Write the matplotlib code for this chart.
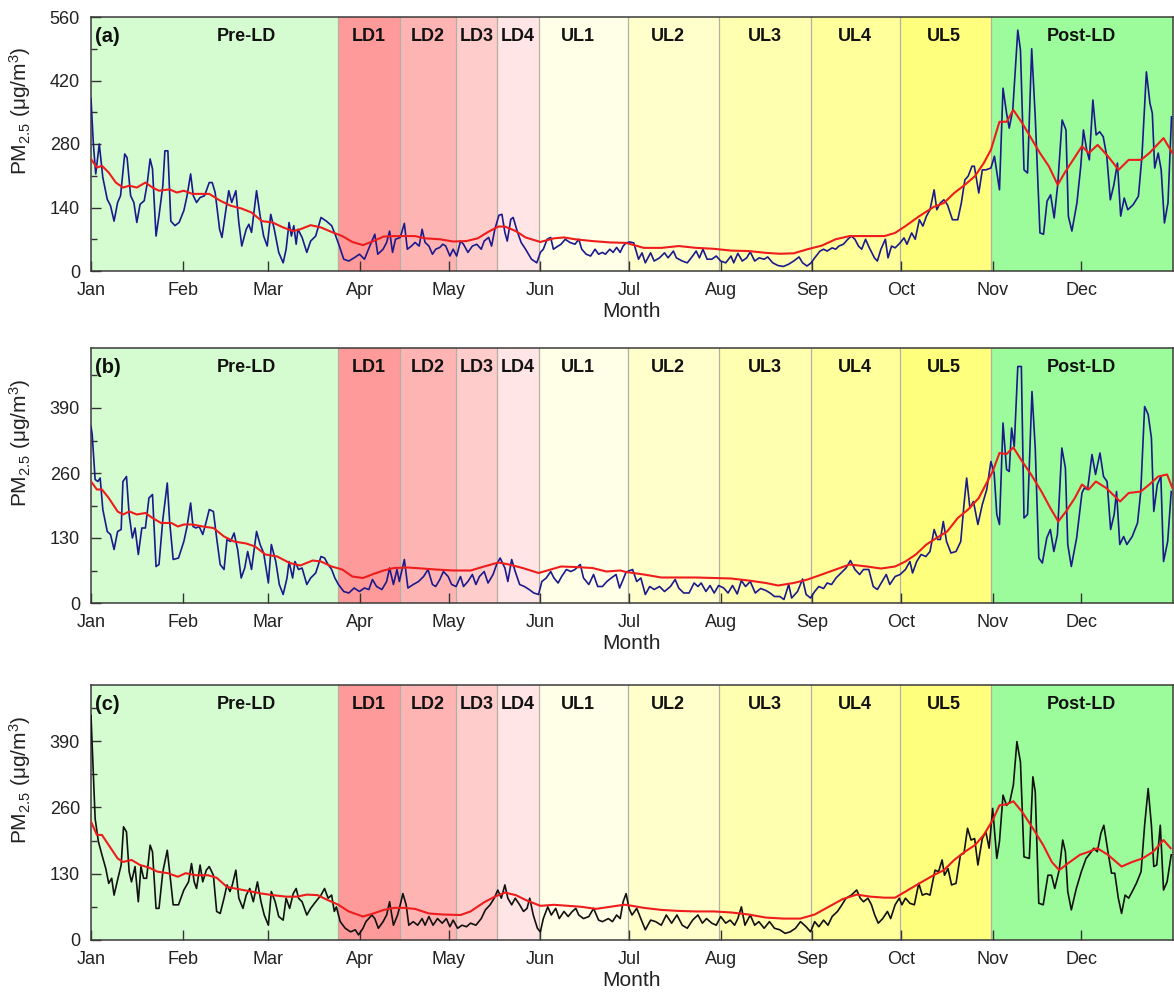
import matplotlib
matplotlib.use("Agg")
import matplotlib.pyplot as plt
from matplotlib.ticker import MultipleLocator

plt.rcParams['font.family'] = ['Liberation Sans', 'DejaVu Sans']
plt.rcParams['mathtext.default'] = 'regular'

# ---------------- data ----------------
month_ticks = [0, 31, 60, 91, 121, 152, 182, 213, 244, 274, 305, 335]
month_labels = ['Jan', 'Feb', 'Mar', 'Apr', 'May', 'Jun', 'Jul', 'Aug', 'Sep', 'Oct', 'Nov', 'Dec']

phase_names = ['Pre-LD', 'LD1', 'LD2', 'LD3', 'LD4', 'UL1', 'UL2', 'UL3', 'UL4', 'UL5', 'Post-LD']
phase_edges = [0, 83.5, 104.5, 123.5, 137.5, 151.5, 181.5, 212.5, 243.5, 273.5, 304.5, 366]
phase_colors = ['#d5fcd1', '#ff9a9a', '#ffb4b4', '#ffcccc', '#ffe5e5', '#fffee6',
                '#ffffcc', '#ffffb0', '#ffff9c', '#ffff7e', '#9cfc9c']
phase_label_x = [52.7, 94, 114, 130.5, 144.5, 164.8, 195, 228, 258.5, 288.5, 335]

# panel (a)
a_days = [0, 0.8, 1.6, 2.8, 4, 5.5, 6.6, 7.8, 9, 10, 11.4, 12.2, 13.4, 14.5, 15.5, 16.6, 18, 19, 20, 20.8,
          22, 23, 24.3, 25, 26, 27, 28.4, 29.8, 31.4, 32.5, 33.7, 34.6, 35.7, 36.9, 38.4, 40, 41, 42, 43.5, 44.3,
          45.5, 46.6, 47.6, 49, 50, 51, 52.5, 53.4, 54.3, 56, 57.2, 58.4, 59.6, 60.8, 62, 63.5, 65, 66, 67, 67.8,
          68.6, 69.4, 70, 71.4, 73, 74.3, 76, 77.8, 79.6, 81.4, 82.8, 84, 85.5, 87.2, 89, 90.8, 92.5, 94.3, 96, 97,
          98.8, 100, 101, 102, 103, 104.6, 106, 107, 108.4, 109.6, 111, 112, 113, 114.3, 115.5, 116.6, 118, 119, 120, 121.4,
          122.5, 123.7, 125, 126, 127.5, 129, 130.5, 132, 133, 134.5, 135.5, 136.6, 138, 139, 140, 140.8, 142, 142.8, 144.3, 145.5,
          147, 149, 150.8, 152, 153, 154.3, 155.5, 156.4, 158, 159, 160.4, 162, 163.7, 165, 166, 167.5, 169, 170.5, 171.7, 173,
          174, 175.5, 176.6, 177.8, 179, 180,
          181, 182.2, 183.6, 185.2, 186.4, 187.5, 189.3, 190.5, 192.3, 194, 195.2, 197, 198, 200, 201.7, 203.5, 204.7, 205.8, 207, 208.4,
          210, 211.5, 213, 214.7, 216.5, 217.4, 218.8, 220.3, 221.8, 223, 224.5, 226, 227.7, 228.9, 230.6, 232.4, 234.2, 236, 237.7, 239.5,
          240.7, 242.2, 243.6, 244.8, 246.6, 247.8, 249, 250.7, 251.9, 253, 254.5, 256, 257.2, 258.4, 259.6, 260.7, 262, 263, 265, 266,
          267.2, 268.7, 269.6, 270.8, 272, 273.7, 275, 276, 277.6, 278.8, 280.2, 281.4, 282.6, 283.8, 285.2, 286.1, 287.3, 288.5, 289.7, 291.4,
          293.2, 294.4, 295.6, 296.7, 298, 298.8, 300.3, 301.5, 302.7, 304.4, 305.6, 307.3, 308.5, 309.7, 310.6, 311.8, 313.5, 314.4, 315.6, 316.8,
          318.2, 319.4, 321, 322.2, 323.4, 324.6, 325.8, 327, 328.5, 329.8, 330.6, 331.8, 333.5, 334.8, 335.7, 336.8, 337.7, 338.9, 340, 341.2,
          342.4, 343.6, 344.8, 346, 347.2, 348.3, 349.5, 350.7, 352.5, 354.3, 355.5, 357, 358.2, 359, 359.8, 361, 362, 363.1, 364.3, 365.5]
a_pm = [380, 280, 214, 280, 206, 158, 144, 110, 151, 166, 258, 250, 166, 151, 107, 147, 155, 192, 247, 225,
        77, 122, 188, 265, 265, 110, 100, 107, 133, 166, 214, 166, 151, 162, 166, 195, 195, 173, 92, 74,
        129, 177, 151, 177, 107, 55, 92, 103, 85, 177, 122, 77, 55, 125, 92, 41, 18, 48, 107, 77,
        100, 59, 92, 74, 41, 66, 77, 118, 110, 100, 77, 55, 26, 22, 29, 37, 26, 55, 81, 37,
        48, 63, 88, 41, 70, 74, 105, 48, 55, 63, 55, 92, 63, 55, 37, 48, 52, 59, 55, 33,
        48, 33, 66, 59, 41, 55, 59, 48, 66, 74, 55, 92, 123, 125, 85, 66, 114, 118, 85, 63,
        48, 26, 18, 41, 48, 70, 74, 48, 55, 59, 70, 63, 59, 70, 48, 37, 33, 48, 37, 41,
        37, 48, 41, 52, 41, 55,
        62, 64, 62, 26, 40, 18, 40, 22, 29, 40, 29, 44, 29, 22, 18, 33, 44, 29, 48, 26,
        26, 33, 22, 18, 33, 18, 39, 22, 29, 42, 22, 29, 26, 31, 18, 12, 10, 15, 22, 31,
        18, 11, 18, 29, 44, 48, 44, 51, 48, 55, 59, 70, 77, 70, 55, 48, 70, 55, 29, 22,
        48, 70, 29, 55, 51, 62, 73, 59, 84, 70, 113, 99, 121, 135, 179, 135, 150, 157, 146, 113,
        113, 150, 201, 209, 231, 231, 172, 223, 223, 227, 253, 179, 403, 348, 315, 355, 531, 487, 223, 216,
        490, 340, 84, 81, 154, 168, 117, 190, 333, 311, 121, 88, 150, 231, 311, 267, 245, 377, 300, 307,
        296, 253, 157, 190, 238, 121, 161, 135, 146, 165, 253, 439, 370, 348, 227, 260, 223, 106, 150, 340]
a_ma_days = [0, 2, 3.7, 6, 8.4, 10.8, 13, 15.5, 18.4, 20.8, 23, 26.6, 29, 31.4, 34.3, 37.8, 40, 43.7, 47.2, 50.8,
             54.3, 57.8, 61.4, 65, 68.4, 70.8, 74.3, 77.8, 81.4, 85, 88.4, 92, 95.5, 99, 102.5, 106, 109.6, 113, 118, 122.5,
             127, 130.8, 134.3, 137.8, 140, 143.7, 147, 152, 156.6, 160, 163.7, 169.6, 175.5,
             181, 187, 193, 198.8, 204.7, 210.6, 216.5, 222.4, 228.3, 233, 237.7, 242.4, 247.2, 251.9, 256.6, 262.5, 268.4, 272,
             275.5, 280.2, 285, 288.5, 292, 295.6, 299, 302, 304.4, 307.3, 309.7, 312, 315, 318, 321, 324, 327, 329.3,
             332.2, 335.2, 337.5, 340.5, 344, 347.6, 351, 355.2, 358, 362.8, 365.8]
a_ma = [247, 228, 232, 217, 195, 184, 188, 184, 195, 184, 177, 180, 173, 177, 170, 170, 170, 155, 144, 138,
        129, 110, 107, 96, 88, 92, 101, 96, 86, 77, 64, 57, 66, 76, 77, 77, 77, 72, 70, 65,
        66, 72, 86, 98, 98, 88, 74, 64, 72, 74, 70, 66, 63,
        62, 51, 51, 55, 51, 49, 45, 44, 40, 38, 39, 48, 56, 70, 77, 77, 77, 84,
        99, 121, 141, 150, 172, 190, 209, 238, 267, 329, 329, 355, 326, 293, 260, 231, 190, 216,
        245, 275, 260, 278, 253, 223, 245, 245, 260, 293, 260]

# panel (b)
b_days = [0, 0.4, 1.4, 2.3, 3.1, 4, 5.5, 6.6, 7.8, 9, 10.2, 10.8, 12, 12.9, 14, 14.9, 16, 17.2, 18.4, 19.6,
          20.8, 22, 23, 24.3, 25.8, 26.6, 27.8, 29.6, 31.4, 32.5, 33.7, 34.5, 35.5, 36.6, 37.8, 39, 40, 41.4, 42.5, 43.7,
          45, 46, 47.2, 48.4, 49.6, 50.8, 52, 53, 54.3, 56, 57.2, 58.4, 60, 61, 62.5, 63.7, 65, 66.3, 67, 68.2,
          69, 70.2, 71.4, 73, 74.3, 76, 77.8, 79, 80.2, 81.4, 82.5, 83.7, 85.5, 87.2, 89, 90.8, 92.5, 94, 95.2, 96.6,
          98.4, 100, 101, 102.3, 103.5, 104.3, 106, 107.2, 109, 110.8, 112.5, 114, 115.5, 116.6, 118, 119.2, 120.8, 122, 123.5, 125,
          126, 127.5, 129, 130.2, 131.4, 133, 134.3, 136, 137.2, 138.4, 140, 141, 142.3, 143.5, 145, 146.6, 148.2, 149.8, 151.4, 152.5,
          154, 155.5, 156.6, 158, 159.2, 160.8, 162.3, 163.7, 165.5, 166.6, 168.4, 170, 171.4, 173, 174.5, 176, 177.6, 178.8, 180,
          181, 183.2, 184.6, 186, 187.5, 189, 190.5, 192.3, 194, 196, 197.6, 198.8, 200.5, 202.3, 204, 205.3, 206.4, 208, 209.4, 210.8,
          212.3, 214, 215.5, 217, 218.6, 220, 221.4, 223, 224.7, 226.5, 228.3, 229.7, 231.2, 233, 234.4, 236, 237, 239, 240.7, 241.9,
          243.4, 244.8, 246.2, 247.8, 249, 250.5, 252, 253.7, 255.4, 256.9, 258.4, 260, 261.3, 263.1, 264.6, 266, 267.6, 269, 270.2, 272,
          273.7, 275.5, 277, 277.9, 279.3, 280.8, 282.4, 283.8, 285.2, 286.4, 287.3, 288.3, 289.4, 290.9, 292.6, 294.2, 295.3, 296.2, 297.3, 298.5,
          300, 301.5, 303, 304.4, 305.5, 306.4, 307.3, 308.5, 309.7, 310.6, 311.4, 312.3, 313.5, 314.7, 315.6, 316.8, 318.3, 319.4, 320.6, 321.8,
          323.3, 324.5, 325.7, 326.9, 328.4, 329.6, 330.4, 331.6, 333.4, 335.2, 336, 337.1, 338.6, 339.8, 341.3, 342.5, 343.7, 344.9, 346.1, 346.9,
          348, 349.3, 350.4, 352.2, 354, 355.1, 356.4, 357.6, 358.7, 359.5, 360.7, 361.9, 362.8, 364.2, 365.4]
b_pm = [353, 337, 247, 243, 250, 187, 143, 137, 107, 143, 147, 243, 253, 177, 130, 150, 97, 150, 150, 210,
        217, 73, 77, 167, 240, 163, 87, 90, 123, 153, 200, 153, 150, 153, 137, 163, 187, 183, 130, 77,
        67, 127, 123, 140, 107, 50, 70, 103, 67, 143, 117, 100, 40, 117, 83, 37, 17, 50, 83, 50,
        83, 67, 70, 37, 50, 60, 93, 90, 77, 67, 50, 37, 23, 20, 30, 23, 30, 27, 47, 33,
        27, 43, 70, 37, 67, 43, 87, 30, 37, 43, 53, 67, 37, 33, 47, 63, 53, 37, 33, 53,
        33, 43, 57, 37, 53, 63, 40, 57, 77, 90, 70, 43, 87, 63, 37, 33, 27, 20, 17, 43,
        50, 63, 50, 40, 53, 67, 63, 67, 77, 50, 37, 57, 33, 33, 43, 50, 57, 30, 47,
        62, 67, 43, 50, 17, 33, 27, 33, 23, 33, 47, 30, 20, 20, 40, 33, 40, 23, 35, 20,
        35, 30, 20, 35, 18, 45, 33, 43, 20, 29, 25, 20, 13, 13, 7, 37, 10, 23, 48, 17,
        10, 23, 33, 29, 40, 37, 50, 60, 70, 85, 67, 57, 67, 67, 33, 27, 43, 57, 37, 53,
        57, 67, 83, 60, 83, 97, 93, 103, 147, 127, 127, 163, 123, 100, 103, 123, 197, 250, 190, 203,
        157, 197, 227, 283, 260, 177, 157, 360, 267, 263, 350, 313, 473, 473, 170, 177, 423, 310, 90, 80,
        130, 147, 103, 137, 310, 270, 117, 73, 130, 220, 230, 227, 297, 257, 300, 253, 243, 147, 177, 223,
        117, 133, 117, 133, 160, 223, 393, 377, 330, 183, 237, 253, 83, 123, 223]
b_ma_days = [0, 2, 3.7, 6, 9, 10.8, 13, 15.5, 18.4, 20.8, 23.7, 27.2, 29.4, 31.4, 34.3, 37.8, 41.4, 45, 48.4, 52.5,
             55.5, 59, 63, 67.2, 70.8, 75, 77.8, 81.4, 85, 88.4, 92, 95.5, 99, 102.5, 107.2, 112, 116.6, 122.5, 128.4, 133,
             137.8, 141.4, 146, 151.4, 155.5, 159, 163.7, 169.6, 174.3, 179,
             181, 187, 192.9, 198.8, 204.7, 210.6, 216.5, 222.4, 228.3, 232.4, 237.7, 242.4, 247.2, 251.9, 256.6, 262.5, 267.2, 272, 275.5, 279,
             282.6, 286, 289.6, 293.2, 296.7, 300.3, 303.2, 305, 307.3, 309.7, 312, 315, 318, 321.5, 324.5, 327.2, 329.8, 332.8, 335.2, 337.5,
             339.9, 343.4, 348.1, 351, 355.1, 358, 361, 364, 365.8]
b_ma = [243, 227, 227, 210, 183, 177, 183, 177, 180, 170, 160, 160, 153, 157, 157, 153, 150, 133, 123, 119,
        113, 97, 93, 80, 75, 85, 83, 73, 67, 53, 50, 58, 65, 70, 71, 69, 67, 65, 65, 73,
        81, 77, 70, 60, 67, 73, 72, 70, 63, 65,
        62, 57, 51, 51, 51, 50, 49, 45, 40, 35, 40, 47, 57, 67, 77, 73, 69, 73, 83, 97,
        117, 130, 143, 170, 187, 210, 243, 263, 300, 298, 311, 283, 257, 223, 190, 163, 183, 210, 237, 227,
        243, 230, 203, 220, 223, 237, 253, 257, 230]

# panel (c)
c_days = [0, 0.8, 1.4, 2.5, 3.7, 5, 6, 7, 7.8, 9, 10.2, 11, 12, 12.9, 13.7, 14.9, 16, 16.9, 17.8, 18.8,
          20, 20.8, 22, 23, 24.3, 25.8, 26.6, 27.8, 29.6, 31.4, 33, 34, 34.9, 35.7, 36.9, 37.8, 39, 40, 41.4, 42.5,
          43.7, 45, 46, 47, 47.8, 49, 50, 51.4, 52.5, 53.7, 54.9, 56.3, 57.5, 58.6, 60, 61, 62.3, 63.5, 65, 66,
          67.2, 68.4, 69.4, 70.2, 71.4, 73, 74.3, 76, 77.8, 79, 80.2, 81.4, 82.3, 83, 84.3, 86, 87.8, 89.4, 90.5, 92,
          93, 95, 96, 97.2, 98.8, 100, 101, 102.3, 103.7, 104.6, 105.5, 106.6, 107.5, 109, 110.5, 112, 113, 114.3, 115.7, 117.2,
          118.8, 120.2, 121.4, 122.5, 124, 125.5, 127, 128.4, 130.2, 132, 133.4, 135, 136.4, 137.6, 138.8, 140, 141, 142.3, 143.5, 145,
          146.3, 147.5, 148.4, 149.6, 151, 152, 153, 154.5, 155.7, 157.2, 158.4, 160, 161.4, 162.8, 164, 165, 166.6, 168.4, 170, 171.7,
          173, 175, 176.4, 177.8, 179, 180,
          181, 182, 183, 184.6, 186, 187.5, 189.3, 191, 192.9, 194.6, 196.4, 198.2, 200, 201.7, 203.5, 205.3, 206.8, 208.2, 210, 211.5,
          213, 214.7, 216.2, 217.7, 218.8, 220, 221.2, 223, 224.5, 225.9, 227.7, 229.5, 231.2, 233, 234.8, 236.5, 238.3, 240, 241.9, 243.4,
          244.8, 246.2, 247.8, 249.3, 250.7, 252.5, 254, 255.4, 257.2, 259, 260.2, 261.3, 262.8, 264, 265.1, 266.3, 267.8, 269.4, 270.5, 272,
          273.4, 274.3, 275.5, 277, 278.5, 280, 281.2, 282.6, 283.8, 285.5, 286.7, 287.9, 288.7, 289.9, 291.1, 292.6, 294.1, 295.3, 296.5, 297.7,
          298.9, 300, 301.5, 302.7, 303.8, 305, 306.4, 307.3, 308.5, 309.7, 310.8, 312, 313.2, 314.4, 315.6, 317.4, 318.6, 319.4, 320.6, 322.1,
          323.7, 324.9, 326, 327.5, 328.7, 329.6, 330.4, 331.6, 333.3, 335, 336.6, 338, 339.2, 340.4, 341.6, 342.6, 344, 345.2, 346.3, 347.5,
          348.6, 349.8, 351, 352.2, 353.6, 355.2, 356.4, 357.6, 358.7, 359.5, 360.5, 361.7, 362.8, 364, 365.4]
c_pm = [440, 323, 238, 193, 167, 140, 111, 121, 88, 118, 147, 222, 212, 134, 114, 144, 75, 144, 121, 121,
        186, 173, 62, 62, 134, 176, 134, 69, 69, 98, 114, 150, 114, 101, 147, 114, 137, 144, 127, 56,
        52, 82, 108, 95, 108, 137, 82, 62, 88, 101, 75, 114, 75, 49, 29, 95, 75, 46, 39, 82,
        62, 91, 101, 82, 75, 49, 62, 75, 88, 101, 82, 88, 56, 65, 36, 23, 16, 20, 10, 23,
        36, 49, 42, 23, 36, 49, 75, 29, 49, 69, 91, 69, 29, 36, 29, 42, 29, 46, 29, 42,
        33, 42, 26, 39, 23, 29, 26, 33, 29, 42, 59, 69, 82, 98, 82, 108, 82, 69, 82, 69,
        56, 62, 82, 49, 23, 16, 42, 65, 49, 62, 42, 56, 46, 56, 62, 49, 42, 46, 62, 39,
        36, 42, 36, 49, 42, 75,
        91, 62, 49, 62, 42, 20, 39, 36, 29, 49, 33, 49, 29, 23, 39, 49, 33, 42, 33, 29,
        46, 33, 39, 29, 42, 65, 29, 49, 29, 36, 23, 36, 23, 20, 13, 16, 23, 36, 26, 16,
        36, 26, 39, 29, 46, 56, 69, 82, 88, 98, 82, 75, 82, 69, 49, 33, 42, 56, 42, 69,
        82, 69, 82, 72, 69, 111, 88, 91, 88, 137, 134, 157, 127, 140, 108, 111, 167, 170, 219, 196,
        199, 147, 199, 212, 180, 258, 160, 193, 284, 264, 271, 304, 389, 349, 163, 160, 320, 291, 72, 69,
        127, 127, 101, 137, 196, 173, 95, 59, 101, 134, 160, 170, 180, 173, 209, 225, 173, 131, 131, 82,
        52, 88, 82, 95, 111, 134, 225, 297, 225, 144, 147, 225, 98, 114, 167]
c_ma_days = [0, 2, 3.7, 6, 9, 10.8, 13.7, 16.6, 19.6, 22.5, 26, 29.4, 32, 35.5, 39.6, 42.5, 46, 49.6, 54.3, 57.8,
             61.4, 66, 69.6, 73, 76.6, 80.2, 83.7, 87.2, 92, 95.5, 99, 102.5, 106, 109.6, 114.3, 119, 125, 128.4, 133, 136.6,
             140, 143.7, 147.2, 152, 156.6, 161.4, 166, 170.8, 175.5, 180.2,
             181, 187, 192.9, 198.8, 204.7, 210.6, 216.5, 222.4, 228.3, 234.2, 240, 244.8, 249.5, 254.2, 259, 263.7, 268.4, 272, 275.5, 280.2,
             285, 288.5, 292, 295.6, 299, 302, 305, 307.3, 309.7, 312, 315, 318.6, 322.1, 325, 327.5, 330.4, 334.5, 337.5, 340.4, 344,
             348.6, 352.2, 355.7, 359.3, 362.8, 365.2]
c_ma = [232, 206, 206, 186, 160, 153, 157, 147, 142, 134, 131, 124, 131, 127, 127, 122, 104, 100, 95, 91,
        88, 85, 85, 89, 88, 78, 69, 56, 46, 52, 59, 63, 63, 61, 52, 50, 49, 56, 74, 85,
        93, 88, 78, 67, 69, 67, 65, 61, 65, 69,
        69, 63, 59, 57, 56, 56, 54, 50, 44, 42, 42, 50, 65, 80, 89, 85, 83, 83, 95, 111,
        127, 137, 157, 173, 186, 206, 235, 264, 266, 272, 251, 219, 186, 153, 137, 150, 167, 173, 180, 167,
        144, 153, 160, 173, 196, 180]

panels = [
    ('(a)', a_days, a_pm, a_ma_days, a_ma, '#1a1a8c', 560, 140),
    ('(b)', b_days, b_pm, b_ma_days, b_ma, '#1a1a8c', 510, 130),
    ('(c)', c_days, c_pm, c_ma_days, c_ma, '#111111', 500, 130),
]

# ---------------- figure ----------------
W, H = 1174, 992
fig = plt.figure(figsize=(W / 100, H / 100), dpi=100)
boxes = [(17, 271), (348, 603), (685, 940)]
left_px, right_px = 91, 1173

for (tag, d, v, md, mv, lc, ymax, ystep), (top, bot) in zip(panels, boxes):
    ax = fig.add_axes([left_px / W, 1 - bot / H, (right_px - left_px) / W, (bot - top) / H])
    for i, (name, col) in enumerate(zip(phase_names, phase_colors)):
        ax.axvspan(phase_edges[i], phase_edges[i + 1], color=col, lw=0, zorder=0)
        ax.text(phase_label_x[i], 0.925, name, transform=ax.get_xaxis_transform(),
                ha='center', va='center', fontsize=13, fontweight='bold', color='#111111')
    for e in phase_edges[1:-1]:
        ax.axvline(e, color='#b0b0a4', lw=0.9, zorder=1)
    ax.plot(d, v, color=lc, lw=1.2, zorder=3)
    ax.plot(md, mv, color='#ee1c1c', lw=1.5, zorder=4)
    ax.text(0.004, 0.925, tag, transform=ax.transAxes, ha='left', va='center',
            fontsize=14.5, fontweight='bold', color='#111111')
    ax.set_xlim(0, 366)
    ax.set_ylim(0, ymax)
    ax.set_xticks(month_ticks)
    ax.set_xticklabels(month_labels)
    ax.yaxis.set_major_locator(MultipleLocator(ystep))
    ax.yaxis.set_minor_locator(MultipleLocator(ystep / 2))
    ax.tick_params(axis='both', which='major', direction='in', length=7, width=1.0,
                   labelsize=13, pad=8, colors='#333333', labelcolor='#222222')
    ax.tick_params(axis='y', which='minor', direction='in', length=4, width=1.0, colors='#333333')
    for s in ax.spines.values():
        s.set_color('#3a3a3a')
        s.set_linewidth(1.1)
    ax.set_xlabel('Month', fontsize=15, color='#222222')
    ax.xaxis.set_label_coords(0.5, -0.122)
    ax.set_ylabel('PM$_{2.5}$ (μg/m$^{3}$)', fontsize=15, color='#222222')
    ax.yaxis.set_label_coords(-0.0536, 0.63)

fig.savefig('out.png', dpi=100)
